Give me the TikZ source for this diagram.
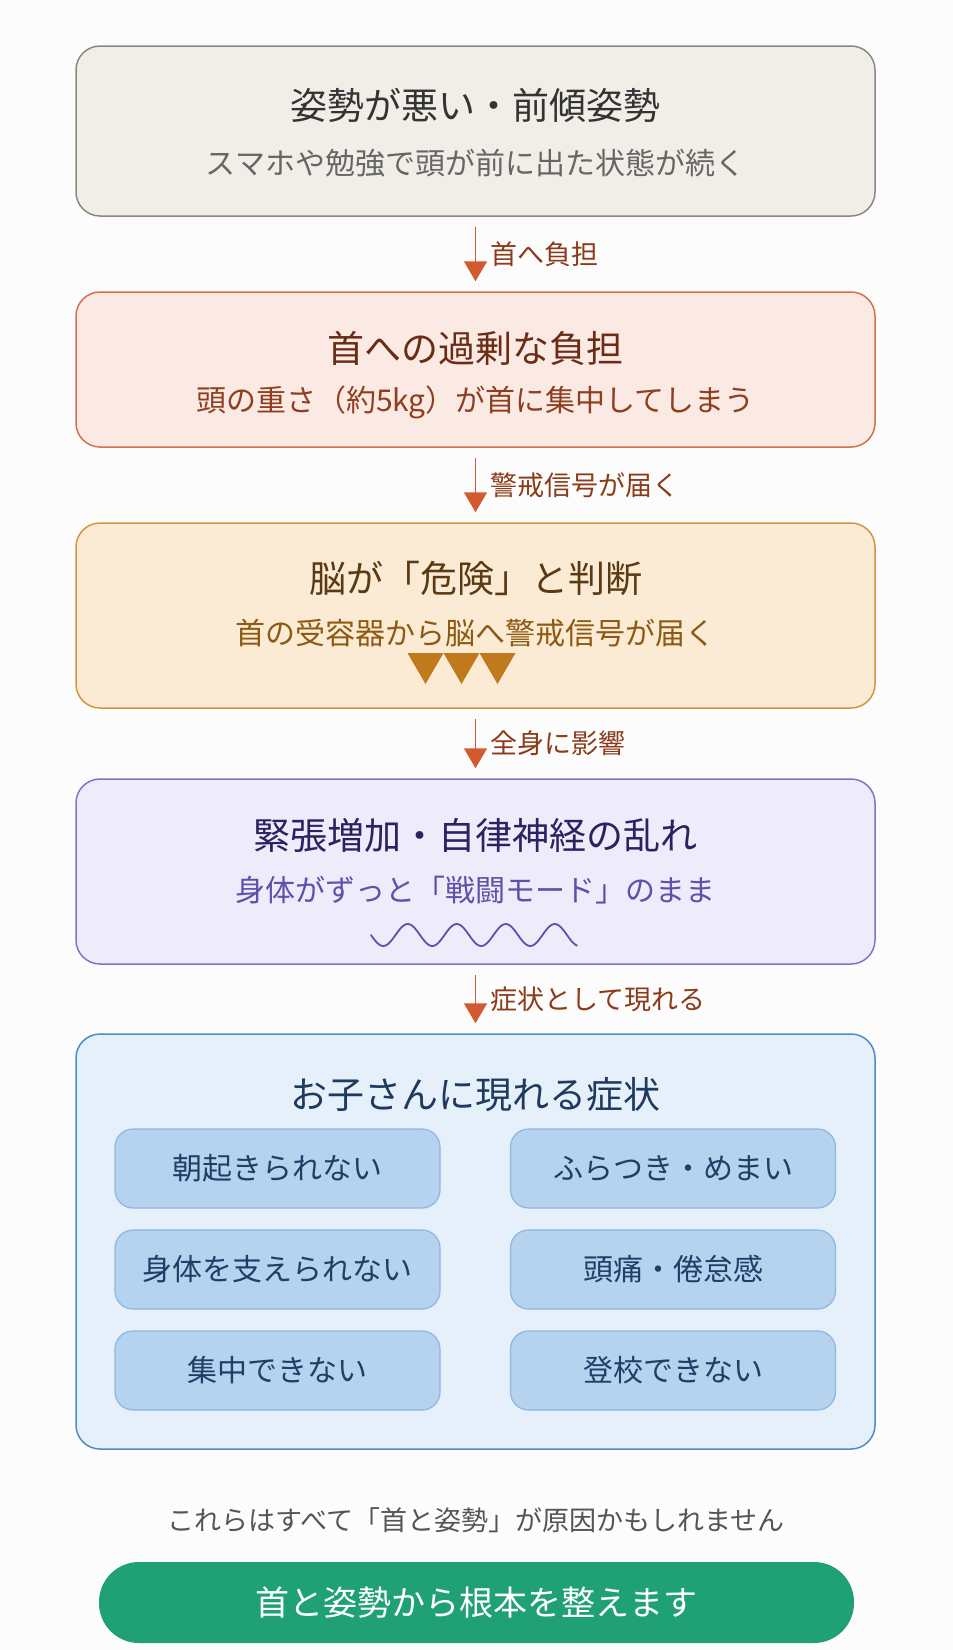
\documentclass[tikz,border=0pt]{standalone}
\usepackage{fontspec}
\setmainfont{Noto Sans CJK JP}
\usetikzlibrary{arrows.meta}
\definecolor{bgc}{HTML}{FCFCFC}
\definecolor{f1}{HTML}{F1EEE8}\definecolor{d1}{HTML}{8C8782}
\definecolor{t1}{HTML}{333333}\definecolor{s1}{HTML}{666666}
\definecolor{f2}{HTML}{FBEAE4}\definecolor{d2}{HTML}{D2714C}
\definecolor{t2}{HTML}{6A2C14}\definecolor{s2}{HTML}{8E3F1F}
\definecolor{f3}{HTML}{FCEBD4}\definecolor{d3}{HTML}{D2963A}
\definecolor{t3}{HTML}{5A3A12}\definecolor{s3}{HTML}{8C5A12}\definecolor{tri}{HTML}{C07A1C}
\definecolor{f4}{HTML}{EEEBFB}\definecolor{d4}{HTML}{8274C2}
\definecolor{t4}{HTML}{2A2360}\definecolor{s4}{HTML}{5E51AA}
\definecolor{f5}{HTML}{E6F0FA}\definecolor{d5}{HTML}{4C8CCA}
\definecolor{t5}{HTML}{1F3A5F}\definecolor{fi}{HTML}{B5D2EE}\definecolor{di}{HTML}{8DB6E0}
\definecolor{ti}{HTML}{1F3F66}
\definecolor{arc}{HTML}{D25A30}\definecolor{lab}{HTML}{8B3A1A}
\definecolor{note}{HTML}{555555}\definecolor{grn}{HTML}{20A075}
\tikzset{
  stagebox/.style={draw, line width=1.5pt, rounded corners=24pt, minimum width=799pt, inner sep=0pt},
  itembox/.style={draw=di, fill=fi, line width=1.2pt, rounded corners=18pt, minimum width=325pt, minimum height=79pt, inner sep=0pt, text=ti, font=\fontsize{30}{32}\selectfont},
  ttl/.style={inner sep=0pt, font=\fontsize{37}{40}\selectfont},
  sub/.style={inner sep=0pt, font=\fontsize{30}{32}\selectfont},
  flow/.style={draw=arc, line width=1.6pt, -{Triangle[width=23pt,length=20pt]}, shorten <=10pt, shorten >=10pt},
  flowlab/.style={midway, anchor=west, xshift=14pt, inner sep=0pt, text=lab, font=\fontsize{27}{29}\selectfont}
}
\begin{document}
\begin{tikzpicture}[x=1pt,y=-1pt]
\useasboundingbox (0,0) rectangle (953,1650);
\fill[bgc] (0,0) rectangle (953,1650);
% stage 1
\node[stagebox, draw=d1, fill=f1, minimum height=170pt] (b1) at (475.5,131) {};
\node[ttl, text=t1] (b1t) at (475.5,105) {姿勢が悪い・前傾姿勢};
\node[sub, text=s1] (b1s) at (475.5,163) {スマホや勉強で頭が前に出た状態が続く};
% stage 2
\node[stagebox, draw=d2, fill=f2, minimum height=155pt] (b2) at (475.5,369.5) {};
\node[ttl, text=t2] (b2t) at (475.5,348) {首への過剰な負担};
\node[sub, text=s2] (b2s) at (475.5,402) {頭の重さ（約5kg）が首に集中してしまう};
% stage 3
\node[stagebox, draw=d3, fill=f3, minimum height=185pt] (b3) at (475.5,615.5) {};
\node[ttl, text=t3] (b3t) at (475.5,578) {脳が「危険」と判断};
\node[sub, text=s3] (b3s) at (475.5,633) {首の受容器から脳へ警戒信号が届く};
\foreach \c in {425.5,461.5,497.5}{
  \fill[tri] (\c-18,653) -- (\c+18,653) -- (\c,684) -- cycle;
}
% stage 4
\node[stagebox, draw=d4, fill=f4, minimum height=185pt] (b4) at (475.5,871.5) {};
\node[ttl, text=t4] (b4t) at (475.5,835) {緊張増加・自律神経の乱れ};
\node[sub, text=s4] (b4s) at (475.5,890) {身体がずっと「戦闘モード」のまま};
\draw[s4, line width=1.8pt, line cap=round] plot[smooth, samples=120, domain=371:577] (\x, {935+11*sin((\x-371)/49*360)});
% stage 5
\node[stagebox, draw=d5, fill=f5, minimum height=415pt] (b5) at (475.5,1241.5) {};
\node[ttl, text=t5] (b5t) at (475.5,1095) {お子さんに現れる症状};
\node[itembox] (i1) at (277.5,1168.5) {朝起きられない};
\node[itembox] (i2) at (673,1168.5) {ふらつき・めまい};
\node[itembox] (i3) at (277.5,1269.5) {身体を支えられない};
\node[itembox] (i4) at (673,1269.5) {頭痛・倦怠感};
\node[itembox] (i5) at (277.5,1370.5) {集中できない};
\node[itembox] (i6) at (673,1370.5) {登校できない};
% arrows
\draw[flow] (b1) -- (b2) node[flowlab] {首へ負担};
\draw[flow] (b2) -- (b3) node[flowlab] {警戒信号が届く};
\draw[flow] (b3) -- (b4) node[flowlab] {全身に影響};
\draw[flow] (b4) -- (b5) node[flowlab] {症状として現れる};
% bottom
\node[inner sep=0pt, text=note, font=\fontsize{27}{30}\selectfont] (nt) at (476,1520) {これらはすべて「首と姿勢」が原因かもしれません};
\node[fill=grn, rounded corners=40pt, minimum width=755pt, minimum height=81pt, inner sep=0pt, text=white, font=\fontsize{34}{36}\selectfont] (btn) at (476.5,1602.5) {首と姿勢から根本を整えます};
\end{tikzpicture}
\end{document}
